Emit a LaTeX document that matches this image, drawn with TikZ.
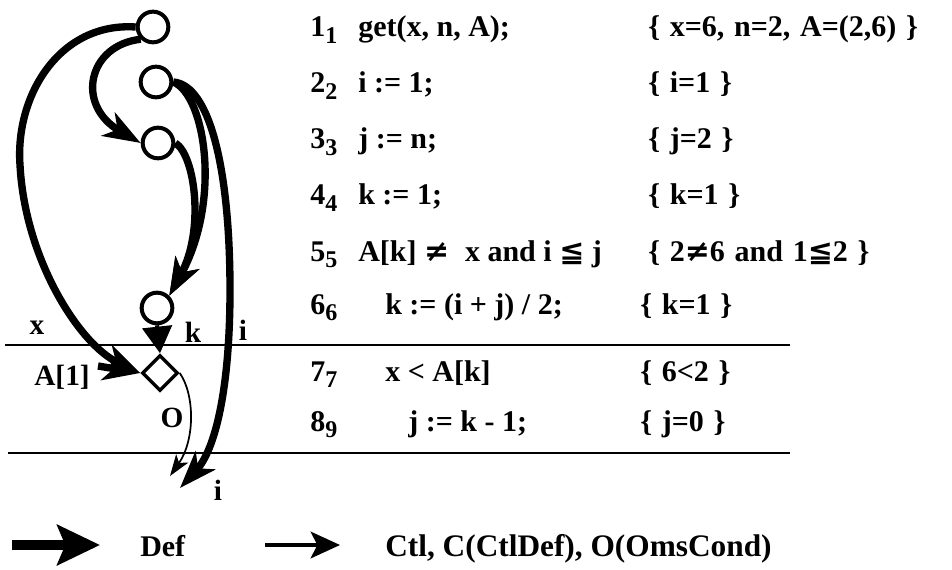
\documentclass[tikz,border=0pt]{standalone}
\usepackage{fontspec}
\setmainfont{Liberation Serif}
\newfontfamily\wsp[WordSpace=1.3]{Liberation Serif}
\newfontfamily\symf{DejaVu Sans}
\usetikzlibrary{arrows.meta,shapes.geometric}
\newcommand\rsub[1]{\raisebox{-0.45ex}{\fontsize{18}{18}\selectfont #1}}
\begin{document}
\begin{tikzpicture}[x=0.75pt,y=-0.75pt,
  txt/.style={anchor=base west,inner sep=0pt,font=\fontsize{22.5}{26}\selectfont\bfseries},
  wtxt/.style={txt,font=\fontsize{22.5}{26}\selectfont\wsp\bfseries},
  lbl/.style={anchor=center,inner sep=0pt,font=\fontsize{22}{26}\selectfont\bfseries},
  vnode/.style={circle,draw,line width=3pt,minimum size=23pt,inner sep=0pt,fill=white},
  dnode/.style={diamond,draw,line width=2.6pt,minimum size=27pt,inner sep=0pt,fill=white},
  defedge/.style={line width=5.5pt,-{Stealth[length=28pt,width=20pt,inset=8pt]}},
  ctledge/.style={line width=1.3pt,-{Stealth[length=16pt,width=11pt,inset=4pt]}},
  rule/.style={line width=1.3pt}]
\useasboundingbox (0,0) rectangle (952,570);
\fill[white] (0,0) rectangle (952,570);
% rules
\coordinate (l1a) at (5,345); \coordinate (l1b) at (790,345);
\coordinate (l2a) at (8,453); \coordinate (l2b) at (790,453);
\draw[rule] (l1a) -- (l1b);
\draw[rule] (l2a) -- (l2b);
% text rows
\node[txt] (n1) at (310,37) {1\rsub{1}};
\node[txt] (s1) at (358,37) {get(x, n, A);};
\node[wtxt] (a1) at (648,37) {\{ x=6, n=2, A=(2,6) \}};
\node[txt] (n2) at (310,93) {2\rsub{2}};
\node[txt] (s2) at (358,93) {i := 1;};
\node[wtxt] (a2) at (648,93) {\{ i=1 \}};
\node[txt] (n3) at (310,149) {3\rsub{3}};
\node[txt] (s3) at (358,149) {j := n;};
\node[wtxt] (a3) at (648,149) {\{ j=2 \}};
\node[txt] (n4) at (310,205) {4\rsub{4}};
\node[txt] (s4) at (358,205) {k := 1;};
\node[wtxt] (a4) at (648,205) {\{ k=1 \}};
\node[txt] (n5) at (310,261) {5\rsub{5}};
\node[txt] (s5) at (358,261) {A[k] {\symf ≠}\; x and i {\symf ≦} j};
\node[wtxt] (a5) at (648,261) {\{ 2{\symf ≠}6 and 1{\symf ≦}2 \}};
\node[txt] (n6) at (310,314) {6\rsub{6}};
\node[txt] (s6) at (385,314) {k := (i + j) / 2;};
\node[wtxt] (a6) at (640,314) {\{ k=1 \}};
\node[txt] (n7) at (310,381) {7\rsub{7}};
\node[txt] (s7) at (385,381) {x < A[k]};
\node[wtxt] (a7) at (640,381) {\{ 6<2 \}};
\node[txt] (n8) at (310,431) {8\rsub{9}};
\node[txt] (s8) at (408,431) {j := k - 1;};
\node[wtxt] (a8) at (640,431) {\{ j=0 \}};
% graph nodes
\node[vnode] (c1) at (153,27) {};
\node[vnode] (c2) at (156,82) {};
\node[vnode] (c3) at (158,143) {};
\node[vnode] (c6) at (157,308) {};
\node[dnode] (d7) at (160,373) {};
\coordinate (a1s) at (98,366);
\coordinate (iend) at (180,488);
\coordinate (oend) at (170,476);
% edges
\draw[defedge] (c1.west) .. controls (60,22) and (15,95) .. (20,165)
  .. controls (25,260) and (80,345) .. (d7.west);
\draw[defedge] (a1s) -- (d7.west);
\draw[defedge] (c1.south west) .. controls (88,45) and (75,105) .. (c3.west);
\draw[defedge] (c2.east) .. controls (210,85) and (230,170) .. (230,290)
  .. controls (230,390) and (215,450) .. (iend);
\draw[defedge] (c2.east) .. controls (205,95) and (222,200) .. (c6.north east);
\draw[defedge] (c3.east) .. controls (195,155) and (205,230) .. (c6.north east);
\draw[line width=3pt,-{Triangle[length=20pt,width=22pt]}] (c6.south) -- (d7.north);
\draw[ctledge] (d7.east) .. controls (195,395) and (195,440) .. (oend);
% labels
\node[lbl] (lx) at (37,328) {x};
\node[lbl] (lk) at (193,332) {k};
\node[lbl] (li) at (243,330) {i};
\node[lbl] (la) at (62,377) {A[1]};
\node[lbl] (lo) at (172,418) {O};
\node[lbl] (li2) at (218,490) {i};
% legend
\coordinate (da) at (12,545); \coordinate (db) at (100,545);
\draw[line width=7.5pt,-{Stealth[length=32pt,width=30pt,inset=6pt]}] (da) -- (db);
\node[txt] (ldef) at (140,556) {Def};
\coordinate (ca) at (265,545); \coordinate (cb) at (340,545);
\draw[line width=2.5pt,-{Stealth[length=22pt,width=20pt,inset=5pt]}] (ca) -- (cb);
\node[txt,font=\fontsize{23.5}{28}\selectfont\bfseries] (lctl) at (385,556) {Ctl, C(CtlDef), O(OmsCond)};
\end{tikzpicture}
\end{document}
